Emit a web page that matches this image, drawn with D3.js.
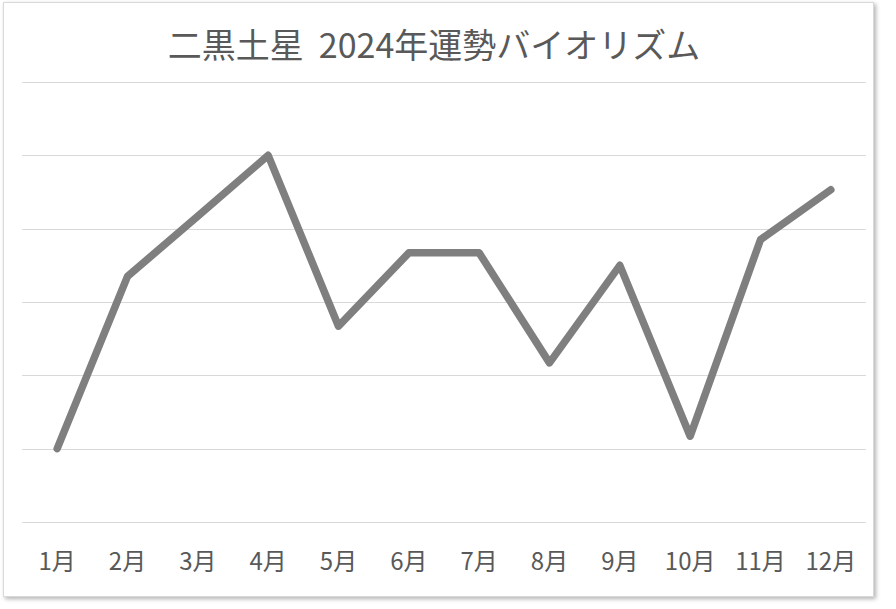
<!DOCTYPE html>
<html lang="ja">
    <head>
        <meta charset="UTF-8" />
        <title>二黒土星 2024年運勢バイオリズム</title>
        <style>
            body {
                margin: 0;
                background: #fff;
                font-family: 'Noto Sans CJK JP', sans-serif;
            }

            .grid line {
                stroke: #d9d9d9;
                stroke-width: 1px;
            }

            .line {
                fill: none;
                stroke: #7f7f7f;
                stroke-width: 7.5px;
                stroke-linejoin: round;
                stroke-linecap: round;
            }

            .axis text {
                fill: #595959;
                font-size: 24px;
            }
        </style>
    </head>

    <body>
        <svg width="896" height="609"></svg>
        <script src="https://d3js.org/d3.v7.min.js"></script>
        <script>
            const title = '二黒土星\u00a0\u00a02024年運勢バイオリズム';
            const months = ['1月', '2月', '3月', '4月', '5月', '6月', '7月', '8月', '9月', '10月', '11月', '12月'];
            const values = [1.0, 3.35, 4.17, 5.0, 2.67, 3.67, 3.67, 2.17, 3.5, 1.17, 3.85, 4.53];
            const yTicks = [0, 1, 2, 3, 4, 5, 6];

            const width = 896,
                height = 609;
            const margin = { top: 82, right: 30, bottom: 87, left: 22 };

            const svg = d3.select('svg').attr('width', width).attr('height', height);

            // chart frame with a soft shadow
            const defs = svg.append('defs');
            const filter = defs.append('filter').attr('id', 'shadow').attr('x', '-5%').attr('y', '-5%').attr('width', '110%').attr('height', '110%');
            filter.append('feDropShadow').attr('dx', 2).attr('dy', 2).attr('stdDeviation', 2).attr('flood-color', '#000').attr('flood-opacity', 0.3);

            svg.append('rect')
                .attr('x', 3.5)
                .attr('y', 2.5)
                .attr('width', 870)
                .attr('height', 594)
                .attr('fill', '#fff')
                .attr('stroke', '#d9d9d9')
                .attr('filter', 'url(#shadow)');

            const x = d3
                .scaleBand()
                .domain(months)
                .range([margin.left, width - margin.right]);

            const y = d3
                .scaleLinear()
                .domain([0, 6])
                .range([height - margin.bottom, margin.top]);

            svg.append('g')
                .attr('class', 'grid')
                .selectAll('line')
                .data(yTicks)
                .join('line')
                .attr('x1', margin.left)
                .attr('x2', width - margin.right)
                .attr('y1', (d) => Math.round(y(d)) + 0.5)
                .attr('y2', (d) => Math.round(y(d)) + 0.5);

            const xAxis = svg
                .append('g')
                .attr('class', 'axis')
                .attr('transform', `translate(0,${height - margin.bottom})`)
                .call(d3.axisBottom(x).tickSize(0).tickPadding(31));
            xAxis.select('.domain').remove();
            xAxis.selectAll('text').attr('font-family', "'Noto Sans CJK JP', sans-serif");

            const line = d3
                .line()
                .x((d, i) => x(months[i]) + x.bandwidth() / 2)
                .y((d) => y(d));

            svg.append('path').datum(values).attr('class', 'line').attr('d', line);

            svg.append('text')
                .attr('x', 434)
                .attr('y', 58)
                .attr('text-anchor', 'middle')
                .attr('fill', '#595959')
                .style('font-size', '34px')
                .text(title);
        </script>
    </body>
</html>
